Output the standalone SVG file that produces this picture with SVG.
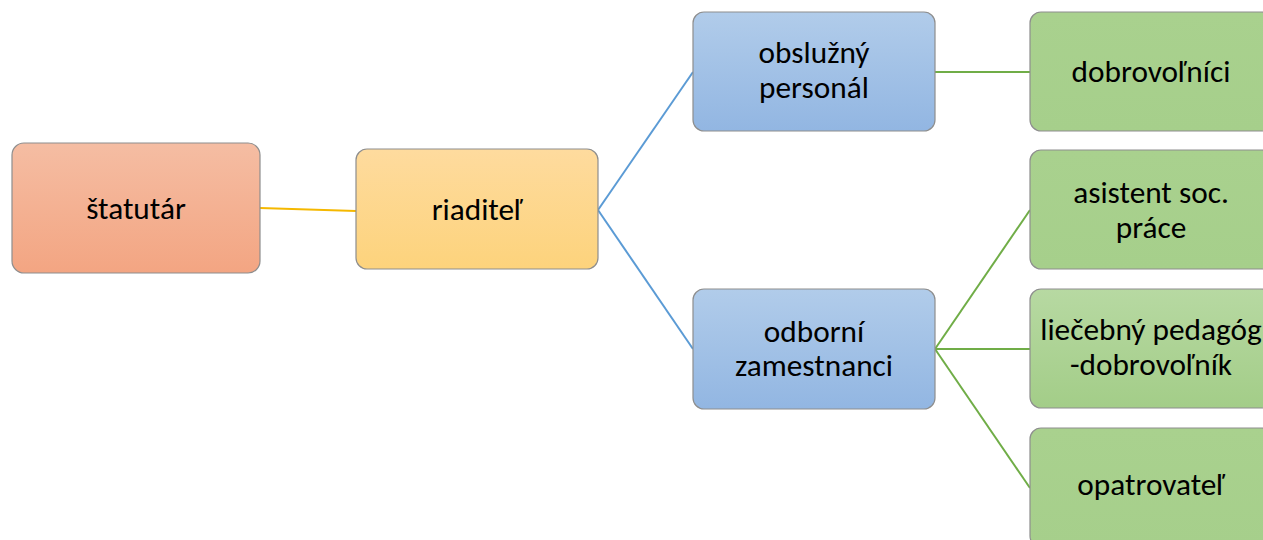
<svg xmlns="http://www.w3.org/2000/svg" width="1263" height="540" viewBox="0 0 1263 540">
<defs>
<linearGradient id="gOr" x1="0" y1="0" x2="0" y2="1"><stop offset="0" stop-color="#F5BDA3"/><stop offset="1" stop-color="#F3A582"/></linearGradient>
<linearGradient id="gYe" x1="0" y1="0" x2="0" y2="1"><stop offset="0" stop-color="#FEDB9E"/><stop offset="1" stop-color="#FDD37C"/></linearGradient>
<linearGradient id="gBl" x1="0" y1="0" x2="0" y2="1"><stop offset="0" stop-color="#B1CCEA"/><stop offset="1" stop-color="#92B6E2"/></linearGradient>
<linearGradient id="gGr" x1="0" y1="0" x2="0" y2="1"><stop offset="0" stop-color="#A9D18E"/><stop offset="1" stop-color="#A6CF8B"/></linearGradient>
<linearGradient id="gGr2" x1="0" y1="0" x2="0" y2="1"><stop offset="0" stop-color="#B7D9A2"/><stop offset="1" stop-color="#A3CD88"/></linearGradient>
</defs>
<style>
.box{stroke:#8E8E8E;stroke-width:1.2}
.t{font-family:Carlito,"Liberation Sans",Arial,sans-serif;font-size:31.3px;fill:#000;text-anchor:middle}
.c{fill:none;stroke-width:2}
</style>
<rect width="1263" height="540" fill="#FFFFFF"/>
<g id="connectors">
<line class="c" stroke="#F5B800" x1="260" y1="208" x2="356" y2="211"/>
<line class="c" stroke="#5B9BD5" x1="598" y1="210" x2="693" y2="72"/>
<line class="c" stroke="#5B9BD5" x1="598" y1="210" x2="693" y2="349"/>
<line class="c" stroke="#70AD47" x1="935" y1="72" x2="1030" y2="72"/>
<line class="c" stroke="#70AD47" x1="935" y1="349" x2="1030" y2="210"/>
<line class="c" stroke="#70AD47" x1="935" y1="349" x2="1030" y2="349"/>
<line class="c" stroke="#70AD47" x1="935" y1="349" x2="1030" y2="488"/>
</g>
<g id="statutar">
<rect class="box" x="12" y="143" width="248" height="130" rx="12" fill="url(#gOr)"/>
<text class="t" x="136" y="219">štatutár</text>
</g>
<g id="riaditel">
<rect class="box" x="356" y="149" width="242" height="120" rx="11" fill="url(#gYe)"/>
<text class="t" x="477" y="220">riaditeľ</text>
</g>
<g id="obsluzny">
<rect class="box" x="693" y="12" width="242" height="119" rx="11" fill="url(#gBl)"/>
<text class="t" x="814" y="63">obslužný</text>
<text class="t" x="814" y="98">personál</text>
</g>
<g id="odborni">
<rect class="box" x="693" y="289" width="242" height="120" rx="11" fill="url(#gBl)"/>
<text class="t" x="814" y="342">odborní</text>
<text class="t" x="814" y="376">zamestnanci</text>
</g>
<g id="dobrovolnici">
<rect class="box" x="1030" y="12" width="242" height="119" rx="11" fill="url(#gGr)"/>
<text class="t" x="1151" y="82">dobrovoľníci</text>
</g>
<g id="asistent">
<rect class="box" x="1030" y="150" width="242" height="119" rx="11" fill="url(#gGr)"/>
<text class="t" x="1151" y="203">asistent soc.</text>
<text class="t" x="1151" y="238">práce</text>
</g>
<g id="liecebny">
<rect class="box" x="1030" y="289" width="242" height="119" rx="11" fill="url(#gGr2)"/>
<text class="t" x="1151" y="340">liečebný pedagóg</text>
<text class="t" x="1151" y="375">-dobrovoľník</text>
</g>
<g id="opatrovatel">
<rect class="box" x="1030" y="428" width="242" height="119" rx="11" fill="url(#gGr)"/>
<text class="t" x="1151" y="495">opatrovateľ</text>
</g>
</svg>
